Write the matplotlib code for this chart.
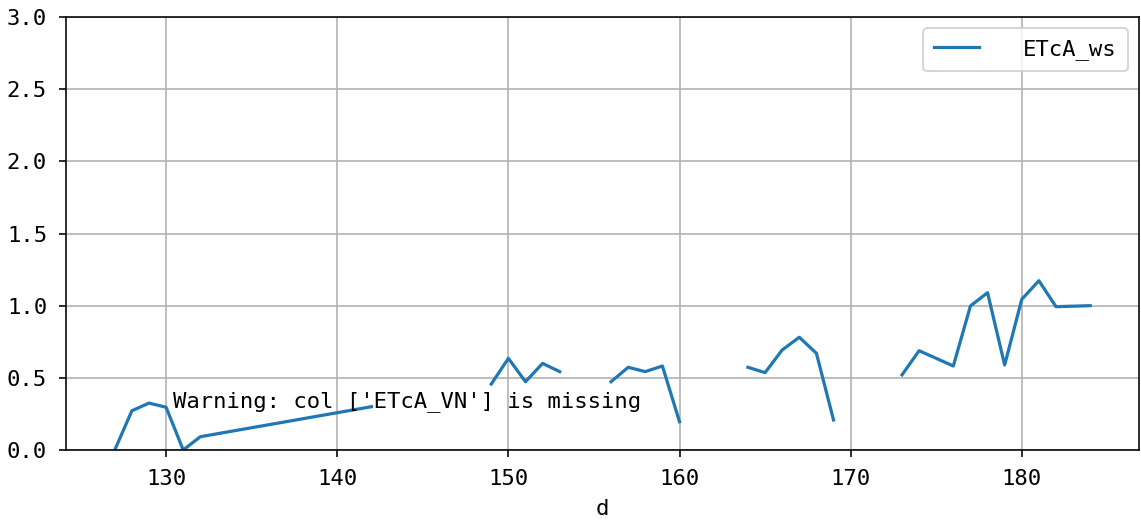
import numpy as np
import matplotlib
matplotlib.use("Agg")
import matplotlib.pyplot as plt

plt.rcParams['font.family'] = ['DejaVu Sans Mono', 'Noto Sans CJK SC']
plt.rcParams['font.size'] = 11.1
plt.rcParams['axes.unicode_minus'] = False

days = [127, 128, 129, 130, 131, 132, 142, 143, 144, 145, 146, 147, 148,
        149, 150, 151, 152, 153, 154, 155, 156, 157, 158, 159, 160,
        161, 162, 163, 164, 165, 166, 167, 168, 169, 170, 171, 172,
        173, 174, 176, 177, 178, 179, 180, 181, 182, 184]
etca_ws = [0.0, 0.272, 0.325, 0.296, 0.0, 0.092, 0.30, np.nan, np.nan, np.nan, np.nan, np.nan, np.nan,
           0.457, 0.635, 0.473, 0.60, 0.543, np.nan, np.nan, 0.473, 0.573, 0.543, 0.582, 0.196,
           np.nan, np.nan, np.nan, 0.573, 0.536, 0.693, 0.781, 0.67, 0.208, np.nan, np.nan, np.nan,
           0.52, 0.688, 0.582, 0.998, 1.09, 0.589, 1.044, 1.173, 0.993, 1.0]

dpi = 144
fig = plt.figure(figsize=(1141 / dpi, 520 / dpi), dpi=dpi)
ax = fig.add_axes([66 / 1141, 1 - 450 / 520, (1139 - 66) / 1141, (450 - 17) / 520])
ax.plot(days, etca_ws, color='#1f77b4', label='ETcA_ws', linewidth=1.6)
ax.set_ylim(0, 3.0)
ax.set_xlabel('d', labelpad=5)
ax.tick_params(axis='x', pad=6)
ax.tick_params(axis='y', pad=6)
ax.grid(True)
ax.legend(loc='upper right', handletextpad=2.0, borderpad=0.5)
ax.text(0.1, 0.1, "Warning: col ['ETcA_VN'] is missing", transform=ax.transAxes)
fig.savefig('out.png', dpi=dpi)
